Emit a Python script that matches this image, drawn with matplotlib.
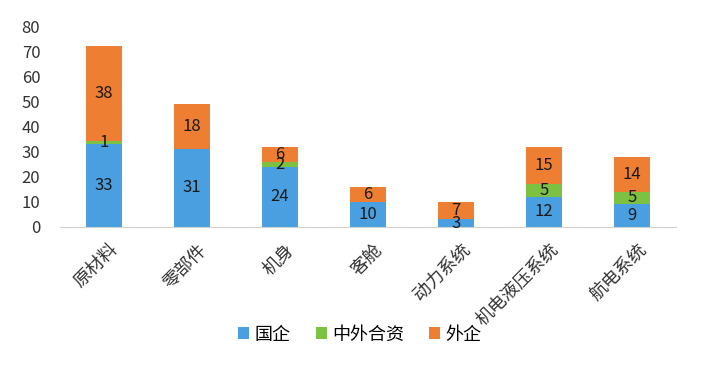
import matplotlib
matplotlib.use('Agg')
import matplotlib.pyplot as plt
import numpy as np

plt.rcParams['font.family'] = ['Noto Sans CJK SC', 'DejaVu Sans']

categories = ['原材料', '零部件', '机身', '客舱', '动力系统', '机电液压系统', '航电系统']
state_owned = [33, 31, 24, 10, 3, 12, 9]   # 国企
joint = [1, 0, 2, 0, 0, 5, 5]              # 中外合资
foreign = [38, 18, 6, 6, 7, 15, 14]        # 外企
series_names = ['国企', '中外合资', '外企']
colors = ['#4A9FE0', '#7DC142', '#EE7E32']

fig = plt.figure(figsize=(7.2, 3.78), dpi=100)
ax = fig.add_axes([0.083, 0.40, 0.856, 0.531])

x = np.arange(len(categories))
bottom = np.zeros(len(categories))
for vals, name, col in zip([state_owned, joint, foreign], series_names, colors):
    vals = np.array(vals)
    ax.bar(x, vals, width=0.41, bottom=bottom, color=col, label=name)
    for xi, b, v in zip(x, bottom, vals):
        if v > 0:
            ax.text(xi, b + v / 2, str(v), ha='center', va='center',
                    fontsize=12, color='#1a1a1a')
    bottom += vals

ax.set_xlim(-0.5, len(categories) - 0.5)
ax.set_ylim(0, 80)
ax.set_yticks(range(0, 81, 10))
ax.set_xticks(x + 0.06)
ax.set_xticklabels(categories, rotation=45, ha='right', rotation_mode='anchor',
                   fontsize=13, color='#333333')
ax.tick_params(axis='y', length=0, labelsize=12, labelcolor='#333333', pad=14)
ax.tick_params(axis='x', length=0, pad=10)
for s in ['top', 'right', 'left']:
    ax.spines[s].set_visible(False)
ax.spines['bottom'].set_color('#d0d0d0')

fig.legend(loc='center', bbox_to_anchor=(0.5, 0.115), ncol=3, frameon=False,
           fontsize=13, handlelength=0.6, handleheight=0.6, handletextpad=0.3,
           columnspacing=1.4)

fig.savefig('out.png', dpi=100)
